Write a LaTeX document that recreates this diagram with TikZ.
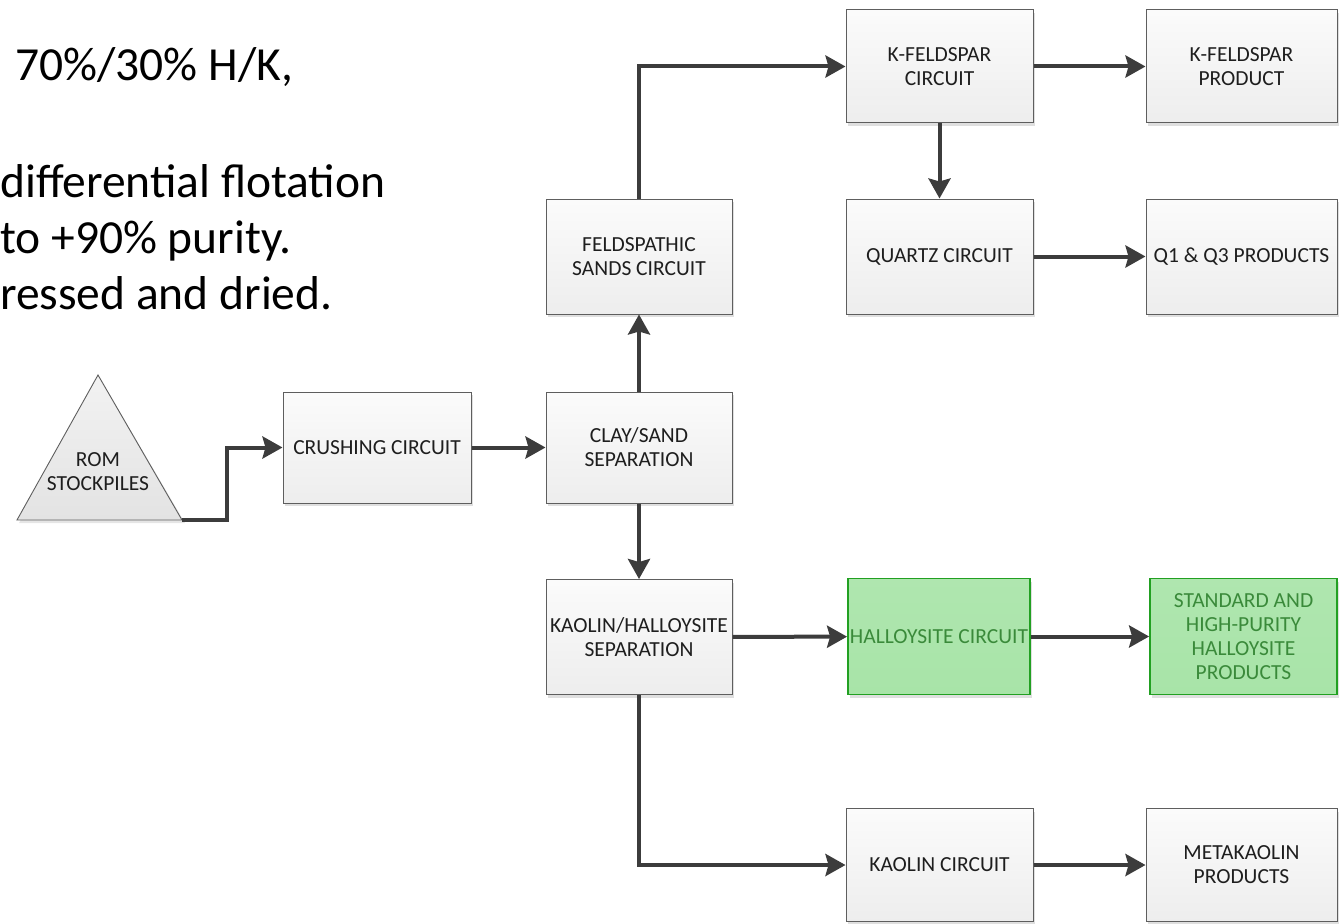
\documentclass[tikz,border=0pt]{standalone}
\usepackage{fontspec}
\setmainfont{Carlito}
\usetikzlibrary{arrows.meta,shadows}
\definecolor{linegray}{HTML}{3C3C3C}
\definecolor{boxedge}{HTML}{5E5E5E}
\definecolor{boxtext}{HTML}{1E1E1E}
\definecolor{greenfill}{HTML}{A8E4A8}
\definecolor{greenedge}{HTML}{22A022}
\definecolor{greentext}{HTML}{3A8A3A}
\tikzset{
  flowbox/.style={draw=boxedge, line width=1pt, top color=white!97!gray, bottom color=gray!14,
    align=center, text=boxtext, inner sep=2pt,
    font=\fontsize{21.5}{24}\selectfont,
    drop shadow={shadow xshift=2pt, shadow yshift=-3pt, opacity=0.25, fill=gray}},
  greenbox/.style={flowbox, draw=greenedge, line width=1.8pt, top color=greenfill!92, bottom color=greenfill, text=greentext},
  flow/.style={draw=linegray, line width=4pt, -{Stealth[length=20pt,width=22pt,inset=3pt]}},
  note/.style={anchor=base west, inner sep=0pt, font=\fontsize{47.5}{56}\selectfont, text=black}
}
\begin{document}
\begin{tikzpicture}[x=1pt,y=-1pt]
\useasboundingbox (0,0) rectangle (1340,923);

% notes at the top left
\node[note] (n1) at (15,81) {70\%/30\% H/K,};
\node[note] (n2) at (0,197) {differential flotation};
\node[note] (n3) at (0,253) {to +90\% purity.};
\node[note] (n4) at (0,309) {ressed and dried.};

% stockpile triangle
\coordinate (apex) at (98,375);
\coordinate (bl) at (17,520);
\coordinate (br) at (182,520);
\fill[gray!40, opacity=0.5] (19,523) -- (100,378) -- (185,523) -- cycle;
\draw[boxedge, line width=0.9pt, top color=gray!10, bottom color=gray!22] (bl) -- (apex) -- (br) -- cycle;
\node[align=center, text=boxtext, font=\fontsize{21.5}{24}\selectfont] (rom) at (98,472) {ROM\\STOCKPILES};

% process boxes
\node[flowbox, minimum width=188pt, minimum height=111pt] (crush) at (377,447.5) {CRUSHING CIRCUIT};
\node[flowbox, minimum width=186pt, minimum height=111pt] (clay) at (639,447.5) {CLAY/SAND\\SEPARATION};
\node[flowbox, minimum width=186pt, minimum height=115pt] (feld) at (639,256.5) {FELDSPATHIC\\SANDS CIRCUIT};
\node[flowbox, minimum width=186pt, minimum height=115pt] (kh) at (639,637) {KAOLIN/HALLOYSITE\\SEPARATION};
\node[flowbox, minimum width=187pt, minimum height=113pt] (kfc) at (939.5,66.5) {K-FELDSPAR\\CIRCUIT};
\node[flowbox, minimum width=191pt, minimum height=113pt] (kfp) at (1241.5,66.5) {K-FELDSPAR\\PRODUCT};
\node[flowbox, minimum width=187pt, minimum height=115pt] (qc) at (939.5,256.5) {QUARTZ CIRCUIT};
\node[flowbox, minimum width=191pt, minimum height=115pt] (qp) at (1241.5,256.5) {Q1 \& Q3 PRODUCTS};
\node[greenbox, minimum width=182pt, minimum height=116pt] (hc) at (939,636.5) {HALLOYSITE CIRCUIT};
\node[greenbox, minimum width=187pt, minimum height=116pt] (hp) at (1243.5,636.5) {STANDARD AND\\HIGH-PURITY\\HALLOYSITE\\PRODUCTS};
\node[flowbox, minimum width=187pt, minimum height=113pt] (kc) at (939.5,865) {KAOLIN CIRCUIT};
\node[flowbox, minimum width=191pt, minimum height=113pt] (mk) at (1241.5,865) {METAKAOLIN\\PRODUCTS};

% connectors
\coordinate (elbow1) at (227,520);
\draw[flow] (br) -- (elbow1) |- (crush.west);
\draw[flow] (crush) -- (clay);
\draw[flow] (clay) -- (feld);
\draw[flow] (feld.north) |- (kfc.west);
\draw[flow] (kfc) -- (kfp);
\draw[flow] (kfc) -- (qc);
\draw[flow] (qc) -- (qp);
\draw[flow] (clay) -- (kh);
\draw[flow] (kh) -- (hc);
\draw[flow] (hc) -- (hp);
\draw[flow] (kh.south) |- (kc.west);
\draw[flow] (kc) -- (mk);
\end{tikzpicture}
\end{document}
